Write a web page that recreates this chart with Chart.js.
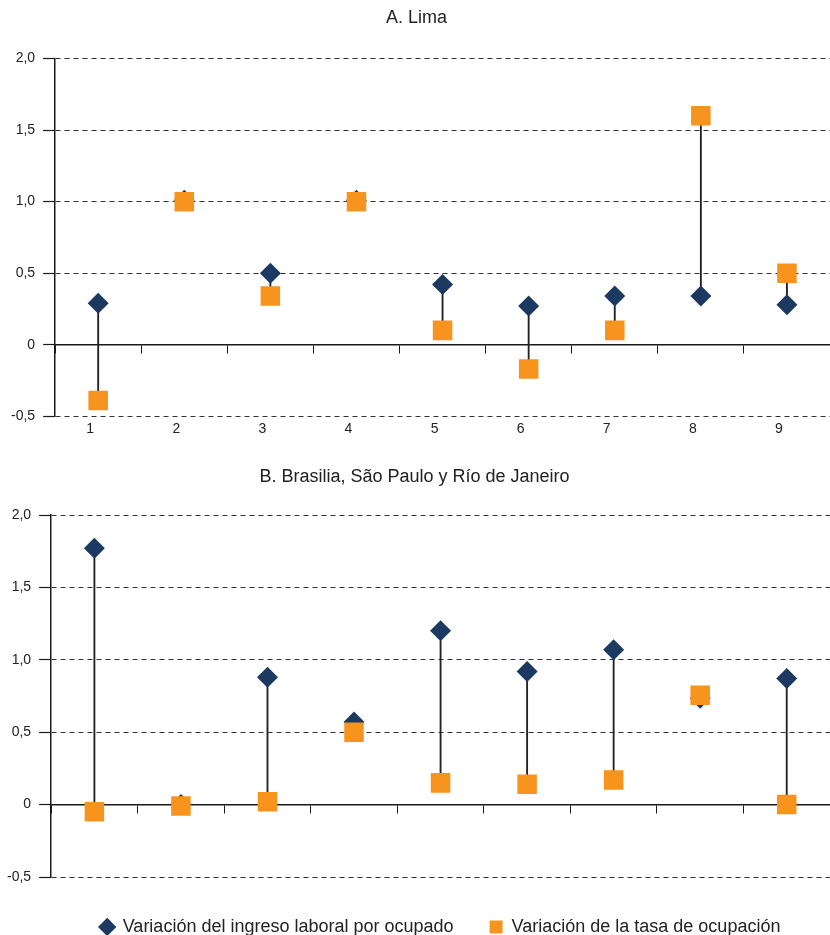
<!DOCTYPE html>
<html>
<head>
<meta charset="utf-8">
<script src="https://cdn.jsdelivr.net/npm/chart.js@4.4.0/dist/chart.umd.min.js"></script>
<style>
  html, body { margin: 0; padding: 0; background: #ffffff; width: 830px; height: 935px; overflow: hidden; }
  .wrap { position: absolute; left: 0; width: 830px; }
  #wa { top: 0; height: 445px; }
  #wb { top: 450px; height: 485px; }
  canvas { display: block; }
</style>
</head>
<body>
<div class="wrap" id="wa"><canvas id="ca" width="830" height="445"></canvas></div>
<div class="wrap" id="wb"><canvas id="cb" width="830" height="485"></canvas></div>
<script>
// ---- Data ----
const categories = ['1', '2', '3', '4', '5', '6', '7', '8', '9'];
const yTickValues = [-0.5, 0, 0.5, 1, 1.5, 2];
const yTickLabels = ['-0,5', '0', '0,5', '1,0', '1,5', '2,0'];
const seriesNames = ['Variación del ingreso laboral por ocupado', 'Variación de la tasa de ocupación'];
const panelTitles = ['A. Lima', 'B. Brasilia, São Paulo y Río de Janeiro'];

const limaIngreso     = [0.29, 1.01, 0.50, 1.01, 0.42, 0.27, 0.34, 0.34, 0.28];
const limaOcupacion   = [-0.39, 1.00, 0.34, 1.00, 0.10, -0.17, 0.10, 1.60, 0.50];
const brasilIngreso   = [1.77, 0.00, 0.88, 0.57, 1.20, 0.92, 1.07, 0.735, 0.87];
const brasilOcupacion = [-0.05, -0.01, 0.02, 0.50, 0.15, 0.14, 0.17, 0.755, 0.00];

// ---- Styles ----
const NAVY = '#1c3a61';
const ORANGE = '#f7941e';
const TEXT = '#222222';
const AXIS = '#1a1a1a';
const GRID = '#333333';
const STEM = '#222222';

Chart.defaults.font.family = '"Liberation Sans", Arial, Helvetica, sans-serif';
Chart.defaults.color = TEXT;

function tickLabel(v) {
  const i = yTickValues.findIndex(t => Math.abs(t - v) < 1e-6);
  return i >= 0 ? yTickLabels[i] : '';
}

function makeChart(id, title, ing, ocu, cfg) {
  const ranges = ing.map((v, i) => [Math.min(v, ocu[i]), Math.max(v, ocu[i])]);
  return new Chart(document.getElementById(id), {
    type: 'bar',
    data: {
      labels: categories,
      datasets: [
        {
          type: 'line', label: seriesNames[0], data: ing, showLine: false,
          pointStyle: 'rectRot', pointRadius: 10.5, pointBorderWidth: 0,
          pointBackgroundColor: NAVY, pointBorderColor: NAVY,
          backgroundColor: NAVY, borderColor: NAVY, borderWidth: 0,
          order: 1, xAxisID: 'x', yAxisID: 'y'
        },
        {
          type: 'line', label: seriesNames[1], data: ocu, showLine: false,
          pointStyle: 'rect', pointRadius: 13.8, pointBorderWidth: 0,
          pointBackgroundColor: ORANGE, pointBorderColor: ORANGE,
          backgroundColor: ORANGE, borderColor: ORANGE, borderWidth: 0,
          order: 0, xAxisID: 'x', yAxisID: 'y'
        },
        {
          type: 'bar', label: 'rango', data: ranges,
          backgroundColor: STEM, borderWidth: 0, barThickness: 1.2,
          order: 2, xAxisID: 'x', yAxisID: 'y'
        }
      ]
    },
    options: {
      responsive: false,
      animation: false,
      events: [],
      layout: { padding: cfg.padding, autoPadding: false },
      plugins: {
        title: {
          display: true, text: title, color: TEXT,
          font: { size: 18, weight: 'normal' },
          padding: cfg.titlePadding
        },
        legend: cfg.legend ? {
          display: true, position: 'bottom', fullSize: false, maxHeight: 53,
          labels: {
            usePointStyle: true, boxWidth: 13, boxHeight: 13, padding: 36,
            color: TEXT, font: { size: 18 },
            filter: item => item.datasetIndex < 2,
            sort: (a, b) => a.datasetIndex - b.datasetIndex
          }
        } : { display: false },
        tooltip: { enabled: false }
      },
      scales: {
        x: {
          type: 'category', axis: 'x', position: 'bottom', offset: true,
          grid: { display: false, drawTicks: false },
          border: { display: false },
          ticks: { font: { size: 14 }, color: TEXT, padding: 5, labelOffset: -8, maxRotation: 0, autoSkip: false },
          afterFit: cfg.legend ? (s) => { s.height = 5; } : undefined
        },
        x0: {
          type: 'category', axis: 'x', position: { y: 0 }, offset: true,
          grid: { drawOnChartArea: false, drawTicks: true, tickLength: 8, color: AXIS, lineWidth: 1, offset: true },
          border: { display: true, color: AXIS, width: 1.5 },
          ticks: { display: false },
          afterFit: (s) => { s.height = 0; }
        },
        y: {
          type: 'linear', position: 'left', min: -0.5, max: 2,
          ticks: { stepSize: 0.5, font: { size: 14 }, color: TEXT, padding: 8, callback: tickLabel },
          grid: { color: GRID, lineWidth: 1, tickLength: 12, tickColor: AXIS, tickWidth: 1.2, tickBorderDash: [] },
          border: { display: true, color: AXIS, width: 1.5, dash: [5, 4] }
        }
      }
    }
  });
}

makeChart('ca', panelTitles[0], limaIngreso, limaOcupacion, {
  padding: { left: 3, right: 0, top: 0, bottom: 2 },
  titlePadding: { top: 7, bottom: 30 },
  legend: false
});
makeChart('cb', panelTitles[1], brasilIngreso, brasilOcupacion, {
  padding: { left: -1, right: 0, top: 0, bottom: 0 },
  titlePadding: { top: 16, bottom: 27.4 },
  legend: true
});
</script>
</body>
</html>
